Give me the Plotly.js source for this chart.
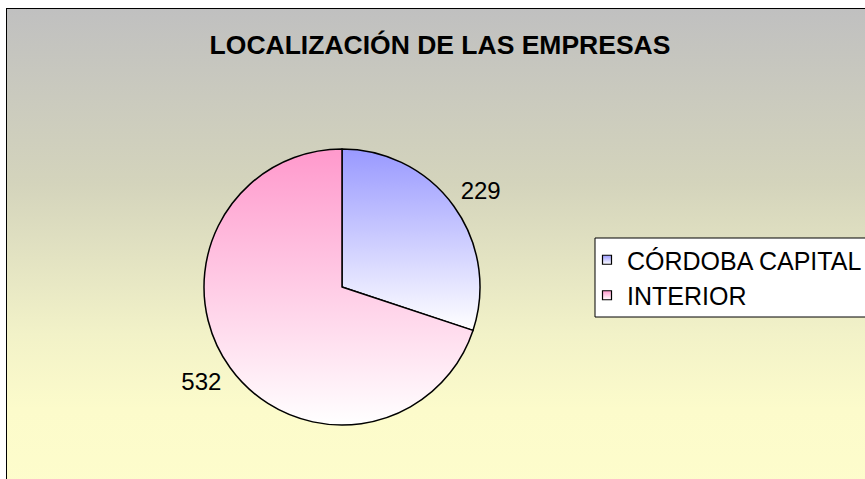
<!DOCTYPE html>
<html>
<head>
<meta charset="utf-8">
<script src="https://cdn.plot.ly/plotly-3.0.1.min.js"></script>
<style>
  html, body { margin: 0; padding: 0; width: 865px; height: 479px; overflow: hidden; background: #ffffff; }
  #frame {
    position: absolute; left: 6px; top: 8px; width: 950px; height: 500px;
    border: 1px solid #000;
    background: linear-gradient(to bottom, #c0c0c0 0%, #d4d4bc 35%, #f2f2c8 65%, #fcfbcb 80%, #fefdcc 100%);
  }
  #chart { position: absolute; left: 0; top: 0; width: 920px; height: 479px; }
</style>
</head>
<body>
<div id="frame"></div>
<div id="chart"></div>
<script>
const categories = ["CÓRDOBA CAPITAL", "INTERIOR"];
const values = [229, 532];
const sliceColors = ["#ccccff", "#ffccdd"];
const gradientTops = ["#9999ff", "#ff99cc"];
const labelNudge = [[0, -11], [-2, 9]];

const W = 920, H = 479;
const px = function (x) { return x / W; };
const py = function (y) { return 1 - y / H; };

const trace = {
  type: "pie",
  labels: categories,
  values: values,
  sort: false,
  direction: "clockwise",
  rotation: 0,
  marker: { colors: sliceColors, line: { color: "#000000", width: 1.5 } },
  textinfo: "value",
  textposition: "outside",
  textfont: { family: "Liberation Sans, Arial, sans-serif", size: 24, color: "#000000" },
  domain: { x: [px(204), px(480)], y: [py(425), py(149)] },
  hoverinfo: "label+value+percent"
};

const layout = {
  width: W, height: H,
  margin: { l: 0, r: 0, t: 0, b: 0 },
  paper_bgcolor: "rgba(0,0,0,0)",
  plot_bgcolor: "rgba(0,0,0,0)",
  title: {
    text: "<b>LOCALIZACIÓN DE LAS EMPRESAS</b>",
    font: { family: "Liberation Sans, Arial, sans-serif", size: 26.5, color: "#000000" },
    x: px(440), xanchor: "center", y: py(44.5), yanchor: "middle"
  },
  shapes: [{
    type: "rect", xref: "paper", yref: "paper", layer: "below",
    x0: px(595), x1: 1.05, y0: py(317), y1: py(238),
    fillcolor: "#ffffff", line: { color: "#000000", width: 1 }
  }],
  showlegend: true,
  legend: {
    x: px(587), xanchor: "left", y: py(237), yanchor: "top",
    bgcolor: "rgba(0,0,0,0)", borderwidth: 0,
    font: { family: "Liberation Sans, Arial, sans-serif", size: 25, color: "#000000" },
    itemclick: false, itemdoubleclick: false
  }
};

Plotly.newPlot("chart", [trace], layout, { staticPlot: true, displayModeBar: false }).then(function (gd) {
  const svg = gd.querySelector("svg.main-svg");
  const defs = svg.querySelector("defs");
  const NS = "http://www.w3.org/2000/svg";
  gradientTops.forEach(function (c, i) {
    const lg = document.createElementNS(NS, "linearGradient");
    lg.setAttribute("id", "sliceGrad" + i);
    lg.setAttribute("x1", "0"); lg.setAttribute("y1", "0");
    lg.setAttribute("x2", "0"); lg.setAttribute("y2", "1");
    const s1 = document.createElementNS(NS, "stop");
    s1.setAttribute("offset", "0"); s1.setAttribute("stop-color", c);
    const s2 = document.createElementNS(NS, "stop");
    s2.setAttribute("offset", "1"); s2.setAttribute("stop-color", "#ffffff");
    lg.appendChild(s1); lg.appendChild(s2);
    defs.appendChild(lg);
  });
  gd.querySelectorAll("g.slice").forEach(function (s, i) {
    const p = s.querySelector("path.surface");
    if (p) p.style.fill = "url(#sliceGrad" + i + ")";
    const t = s.querySelector("g.slicetext");
    if (t && labelNudge[i]) {
      const tr = t.getAttribute("transform") || "";
      t.setAttribute("transform", "translate(" + labelNudge[i][0] + "," + labelNudge[i][1] + ") " + tr);
    }
  });
  gd.querySelectorAll("g.legend g.traces").forEach(function (t, i) {
    const p = t.querySelector("path.legendpie");
    if (p) {
      p.style.fill = "url(#sliceGrad" + i + ")";
      p.setAttribute("d", "M4.5,4.5H-4.5V-4.5H4.5Z");
      p.style.strokeWidth = "1.2px";
    }
  });
});
</script>
</body>
</html>
